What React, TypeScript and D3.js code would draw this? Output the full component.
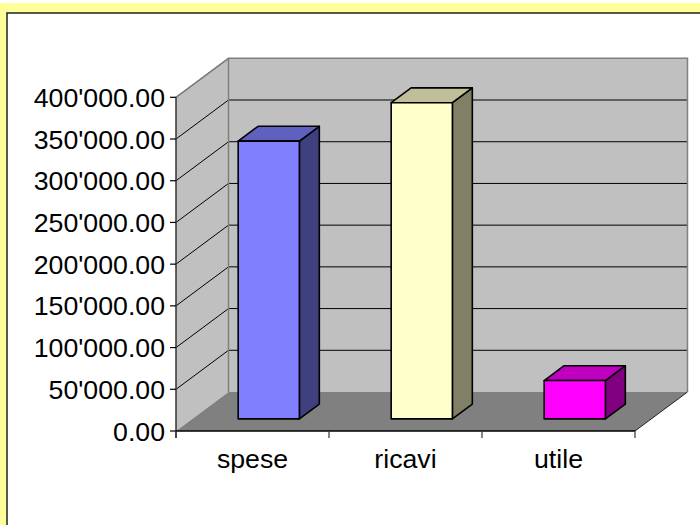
import React from "react";
import * as d3 from "d3";

const categories = ["spese", "ricavi", "utile"];
const values = [333000, 379000, 46000];
const yTicks = [0, 50000, 100000, 150000, 200000, 250000, 300000, 350000, 400000];
const frontColors = ["#8080FF", "#FFFFCC", "#FF00FF"];

const W = 700;
const H = 525;

function shade(c: string, k: number) {
  const col = d3.rgb(c);
  return d3.rgb(col.r * k, col.g * k, col.b * k).formatHex();
}

const fmt = (v: number) => {
  const s = d3.format(",.2f")(v);
  return s.replace(/,/g, "'");
};

export default function App() {
  const x0 = 176;
  const x1 = 635;
  const yBottom = 431;
  const yTop = 97.3;
  const D = { dx: 52.5, dy: -39 };
  const f1 = 0.31;
  const f2 = 0.69;

  const y = d3.scaleLinear().domain([0, 400000]).range([yBottom, yTop]);
  const x = d3
    .scaleBand<string>()
    .domain(categories)
    .range([x0, x1])
    .paddingInner(0.6)
    .paddingOuter(0.3);

  const bx = D.dx, by = D.dy;
  const font = "'Liberation Sans', Arial, sans-serif";

  const sideWall = [
    [x0, y(400000)],
    [x0 + bx, y(400000) + by],
    [x0 + bx, yBottom + by],
    [x0, yBottom],
  ];
  const floor = [
    [x0, yBottom],
    [x0 + bx, yBottom + by],
    [x1 + bx, yBottom + by],
    [x1, yBottom],
  ];
  const pts = (p: number[][]) => p.map((q) => q.join(",")).join(" ");

  const step = x.step();
  const xTickPositions = categories.map((_, i) => x0 + i * step).concat([x1]);

  return (
    <svg
      width={W}
      height={H}
      style={{ position: "absolute", left: 0, top: 0 }}
      xmlns="http://www.w3.org/2000/svg"
    >
      <rect x={0} y={0} width={W} height={H} fill="#ffffff" />
      <rect x={0} y={3} width={W} height={H} fill="#FFFF99" />
      <rect x={7} y={13} width={W + 20} height={H + 20} fill="#ffffff" stroke="#222" strokeWidth={1.5} />

      {/* walls */}
      <polygon points={pts(sideWall)} fill="#C0C0C0" />
      <rect
        x={x0 + bx}
        y={y(400000) + by}
        width={x1 - x0}
        height={yBottom - y(400000)}
        fill="#C0C0C0"
      />
      {/* gridlines */}
      {yTicks.slice(1).map((t) => (
        <g key={t}>
          <line x1={x0} y1={y(t)} x2={x0 + bx} y2={y(t) + by} stroke="#000" strokeWidth={1} />
          {t < 400000 && (
            <line x1={x0 + bx} y1={y(t) + by} x2={x1 + bx} y2={y(t) + by} stroke="#000" strokeWidth={1} />
          )}
        </g>
      ))}
      {/* wall outlines */}
      <polyline
        points={pts([
          [x0, y(400000)],
          [x0 + bx, y(400000) + by],
          [x1 + bx, y(400000) + by],
          [x1 + bx, yBottom + by],
        ])}
        fill="none"
        stroke="#808080"
        strokeWidth={1.5}
      />
      <line x1={x0 + bx} y1={y(400000) + by} x2={x0 + bx} y2={yBottom + by} stroke="#808080" strokeWidth={1.5} />
      {/* floor */}
      <polygon points={pts(floor)} fill="#808080" />
      <line x1={x1} y1={yBottom} x2={x1 + bx} y2={yBottom + by} stroke="#222" strokeWidth={1} />

      {/* bars */}
      {categories.map((c, i) => {
        const v = values[i];
        const xl = (x(c) as number) + bx * f1;
        const xr = xl + x.bandwidth();
        const yb = yBottom + by * f1;
        const yt = y(v) + by * f1;
        const ddx = bx * (f2 - f1);
        const ddy = by * (f2 - f1);
        const col = frontColors[i];
        return (
          <g key={c} stroke="#000" strokeWidth={1.6} strokeLinejoin="round">
            <polygon
              points={pts([
                [xr, yb],
                [xr + ddx, yb + ddy],
                [xr + ddx, yt + ddy],
                [xr, yt],
              ])}
              fill={shade(col, 0.5)}
            />
            <polygon
              points={pts([
                [xl, yt],
                [xl + ddx, yt + ddy],
                [xr + ddx, yt + ddy],
                [xr, yt],
              ])}
              fill={shade(col, 0.75)}
            />
            <rect x={xl} y={yt} width={xr - xl} height={yb - yt} fill={col} />
          </g>
        );
      })}

      {/* axes */}
      <line x1={x0} y1={y(400000)} x2={x0} y2={yBottom + 7} stroke="#333" strokeWidth={1.5} />
      <line x1={x0} y1={yBottom} x2={x1} y2={yBottom} stroke="#000" strokeWidth={1.5} />
      {yTicks.map((t) => (
        <g key={t}>
          <line x1={x0 - 6} y1={y(t)} x2={x0} y2={y(t)} stroke="#000" strokeWidth={1.2} />
          <text
            x={x0 - 11}
            y={y(t) + 9.5}
            textAnchor="end"
            fontFamily={font}
            fontSize={26.7}
            fill="#000"
          >
            {fmt(t)}
          </text>
        </g>
      ))}
      {xTickPositions.map((p, i) => (
        <line key={i} x1={p} y1={yBottom} x2={p} y2={yBottom + 7} stroke="#333" strokeWidth={1.2} />
      ))}
      {categories.map((c) => (
        <text
          key={c}
          x={(x(c) as number) + x.bandwidth() / 2}
          y={468}
          textAnchor="middle"
          fontFamily={font}
          fontSize={26.7}
          fill="#000"
        >
          {c}
        </text>
      ))}
    </svg>
  );
}
